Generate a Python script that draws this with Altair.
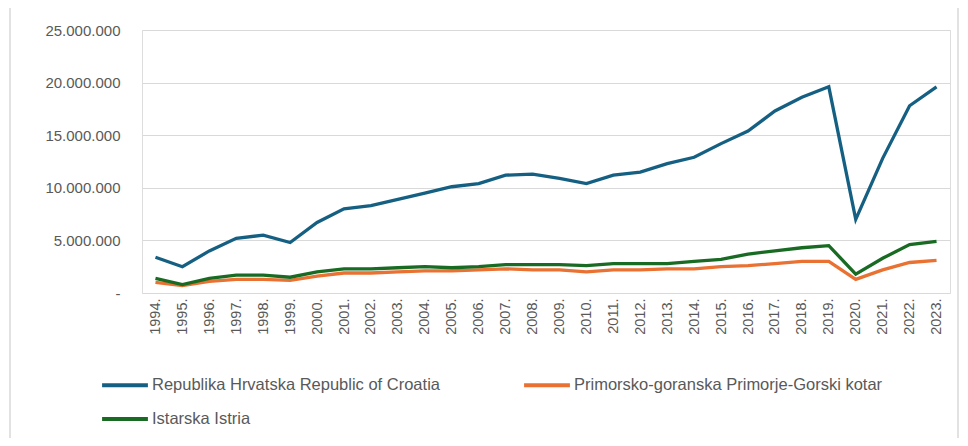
import altair as alt
import pandas as pd

years = [f"{y}." for y in range(1994, 2024)]
croatia = [3.4, 2.5, 4.0, 5.2, 5.5, 4.8, 6.7, 8.0, 8.3, 8.9, 9.5, 10.1, 10.4, 11.2, 11.3, 10.9,
           10.4, 11.2, 11.5, 12.3, 12.9, 14.2, 15.4, 17.3, 18.6, 19.6, 7.0, 12.8, 17.8, 19.6]
primorje = [1.0, 0.7, 1.1, 1.3, 1.3, 1.2, 1.6, 1.9, 1.9, 2.0, 2.1, 2.1, 2.2, 2.3, 2.2, 2.2,
            2.0, 2.2, 2.2, 2.3, 2.3, 2.5, 2.6, 2.8, 3.0, 3.0, 1.3, 2.2, 2.9, 3.1]
istria = [1.4, 0.8, 1.4, 1.7, 1.7, 1.5, 2.0, 2.3, 2.3, 2.4, 2.5, 2.4, 2.5, 2.7, 2.7, 2.7,
          2.6, 2.8, 2.8, 2.8, 3.0, 3.2, 3.7, 4.0, 4.3, 4.5, 1.8, 3.3, 4.6, 4.9]
series_names = ["Republika Hrvatska Republic of Croatia",
                "Primorsko-goranska Primorje-Gorski kotar",
                "Istarska Istria"]
colors = ["#156082", "#E97132", "#196B24"]

rows = []
for name, vals in zip(series_names, [croatia, primorje, istria]):
    for y, v in zip(years, vals):
        rows.append({"year": y, "series": name, "value": v * 1_000_000})
df = pd.DataFrame(rows)

FONT = "Liberation Sans"
GRAY = "#595959"

lines = alt.Chart(df).mark_line(strokeWidth=3.3).encode(
    x=alt.X("year:O", sort=years, title=None,
            scale=alt.Scale(paddingOuter=0.5),
            axis=alt.Axis(labelAngle=-90, labelFontSize=14.5, labelColor=GRAY, labelFont=FONT,
                          ticks=False, domain=False, labelPadding=5)),
    y=alt.Y("value:Q", title=None,
            scale=alt.Scale(domain=[0, 25_000_000]),
            axis=alt.Axis(values=[0, 5e6, 10e6, 15e6, 20e6, 25e6], format=",.0f",
                          labelExpr="datum.value == 0 ? '-\u00a0\u00a0\u00a0\u00a0\u00a0\u00a0' : datum.label",
                          labelFontSize=15, labelColor=GRAY, labelFont=FONT,
                          ticks=False, domain=False, labelPadding=22,
                          gridColor="#d9d9d9", gridWidth=1.2)),
    color=alt.Color("series:N", sort=series_names,
                    scale=alt.Scale(domain=series_names, range=colors),
                    legend=alt.Legend(title=None, orient="none", legendX=-42, legendY=330,
                                      columns=2, direction="horizontal",
                                      symbolType="stroke", symbolStrokeWidth=4, symbolSize=2100,
                                      labelFontSize=16.5, labelColor=GRAY, labelFont=FONT,
                                      labelLimit=0, labelOffset=2, columnPadding=76,
                                      rowPadding=-10)),
)

frame = alt.Chart(pd.DataFrame({"a": [0]})).mark_rect(
    fill=None, stroke="#d9d9d9", strokeWidth=1.5
).encode(x=alt.value(-132), x2=alt.value(816), y=alt.value(-23), y2=alt.value(410))

chart = alt.layer(frame, lines).properties(
    width=808, height=263,
    autosize=alt.AutoSizeParams(type="none"),
    padding={"left": 134, "top": 22, "right": 10, "bottom": 145},
).configure_view(stroke=None).configure(
    locale={"number": {"decimal": ",", "thousands": ".", "grouping": [3], "currency": ["", ""]}}
)

chart.save("out.html", embed_options={"renderer": "svg", "actions": False})
